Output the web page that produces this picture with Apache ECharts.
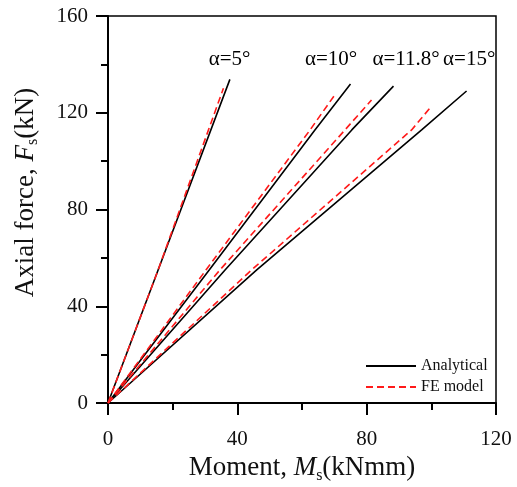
<!DOCTYPE html>
<html><head><meta charset="utf-8">
<script src="https://cdn.jsdelivr.net/npm/echarts@6/dist/echarts.min.js"></script>
<style>html,body{margin:0;padding:0;background:#fff}#c{width:517px;height:487px}</style>
</head><body><div id="c"></div>
<script>
// Analytical curves (Moment kNmm, Axial force kN)
const an5x  = [0, 15.5, 37.7];        const an5y  = [0, 55, 133.8];
const an10x = [0, 31.3, 64.0, 75.0];  const an10y = [0, 55, 112.9, 131.9];
const an118x= [0, 36.2, 75.4, 88.3];  const an118y= [0, 55, 112.9, 131.0];
const an15x = [0, 46.0, 97.0, 110.9]; const an15y = [0, 55, 112.9, 129.0];
// FE model curves
const fe5x  = [0, 15.5, 35.7];        const fe5y  = [0, 55, 130.1];
const fe10x = [0, 30.3, 62.5, 70.3];  const fe10y = [0, 55, 112.9, 127.7];
const fe118x= [0, 34.6, 73.3, 81.5];  const fe118y= [0, 55, 112.9, 125.3];
const fe15x = [0, 44.4, 93.9, 100.1]; const fe15y = [0, 55, 112.9, 122.8];
// angle annotation labels
const angleLabels = ['α=5°', 'α=10°', 'α=11.8°', 'α=15°'];
const angleLabelX = [37.6, 69.0, 92.2, 111.7];
const angleLabelY = [142, 142, 142, 142];
const xTicks = [0, 40, 80, 120];
const yTicks = [0, 40, 80, 120, 160];

const FONT = '"Liberation Serif", "Times New Roman", serif';
const zip = (xs, ys) => xs.map((x, i) => [x, ys[i]]);
const anSets = [[an5x, an5y], [an10x, an10y], [an118x, an118y], [an15x, an15y]];
const feSets = [[fe5x, fe5y], [fe10x, fe10y], [fe118x, fe118y], [fe15x, fe15y]];

const series = [];
anSets.forEach(s => series.push({
  name: 'Analytical', type: 'line', data: zip(s[0], s[1]), symbol: 'none', smooth: false,
  lineStyle: { color: '#000', width: 1.6 }, itemStyle: { color: '#000' }, z: 2
}));
feSets.forEach(s => series.push({
  name: 'FE model', type: 'line', data: zip(s[0], s[1]), symbol: 'none', smooth: false,
  lineStyle: { color: '#ff1a1a', width: 1.6, type: [7, 4] }, itemStyle: { color: '#ff1a1a' }, z: 3
}));
series.push({
  type: 'scatter', symbolSize: 0, silent: true, itemStyle: { color: '#000' },
  data: angleLabels.map((t, i) => ({ name: t, value: [angleLabelX[i], angleLabelY[i]] })),
  label: { show: true, position: 'inside', formatter: p => p.name, color: '#000', textBorderWidth: 0, opacity: 1,
    fontFamily: FONT, fontSize: 21 }
});

const richName = {
  n: { fontFamily: FONT, fontSize: 27, color: '#111' },
  i: { fontFamily: FONT, fontSize: 27, fontStyle: 'italic', color: '#111' },
  s: { fontFamily: FONT, fontSize: 16, color: '#111', padding: [14, 0, 0, 0] }
};

const chart = echarts.init(document.getElementById('c'));
chart.setOption({
  animation: false,
  backgroundColor: '#fff',
  grid: { left: 108, right: 21, top: 16, bottom: 84, outerBoundsMode: 'none', containLabel: false,
    show: true, borderColor: '#000', borderWidth: 1.5, backgroundColor: 'transparent' },
  xAxis: {
    type: 'value', min: 0, max: 120, interval: 40,
    name: '{n|Moment, }{i|M}{s|s}{n|(kNmm)}', nameLocation: 'middle', nameGap: 35,
    nameTextStyle: { rich: richName },
    axisLine: { show: true, lineStyle: { color: '#000', width: 2 } },
    axisTick: { show: true, length: 12, lineStyle: { color: '#000', width: 2 } },
    minorTick: { show: true, splitNumber: 2, length: 7, lineStyle: { color: '#000', width: 2 } },
    axisLabel: { fontFamily: FONT, fontSize: 21, color: '#111', margin: 26,
      formatter: v => xTicks.includes(v) ? String(v) : '' },
    splitLine: { show: false }
  },
  yAxis: {
    type: 'value', min: 0, max: 160, interval: 40,
    name: '{n|Axial force, }{i|F}{s|s}{n|(kN)}', nameLocation: 'middle', nameGap: 67, nameRotate: 90,
    nameTextStyle: { rich: richName, padding: [0, 0, 0, 34] },
    axisLine: { show: true, lineStyle: { color: '#000', width: 2 } },
    axisTick: { show: true, length: 12, lineStyle: { color: '#000', width: 2 } },
    minorTick: { show: true, splitNumber: 2, length: 7, lineStyle: { color: '#000', width: 2 } },
    axisLabel: { fontFamily: FONT, fontSize: 21, color: '#111', margin: 20,
      formatter: v => yTicks.includes(v) ? String(v) : '' },
    splitLine: { show: false }
  },
  legend: {
    data: ['Analytical', 'FE model'], orient: 'vertical', left: 365, top: 358, padding: 0,
    itemWidth: 50, itemHeight: 12, itemGap: 5,
    itemStyle: { opacity: 0 },
    textStyle: { fontFamily: FONT, fontSize: 16, color: '#111' }
  },
  series
});
</script></body></html>
